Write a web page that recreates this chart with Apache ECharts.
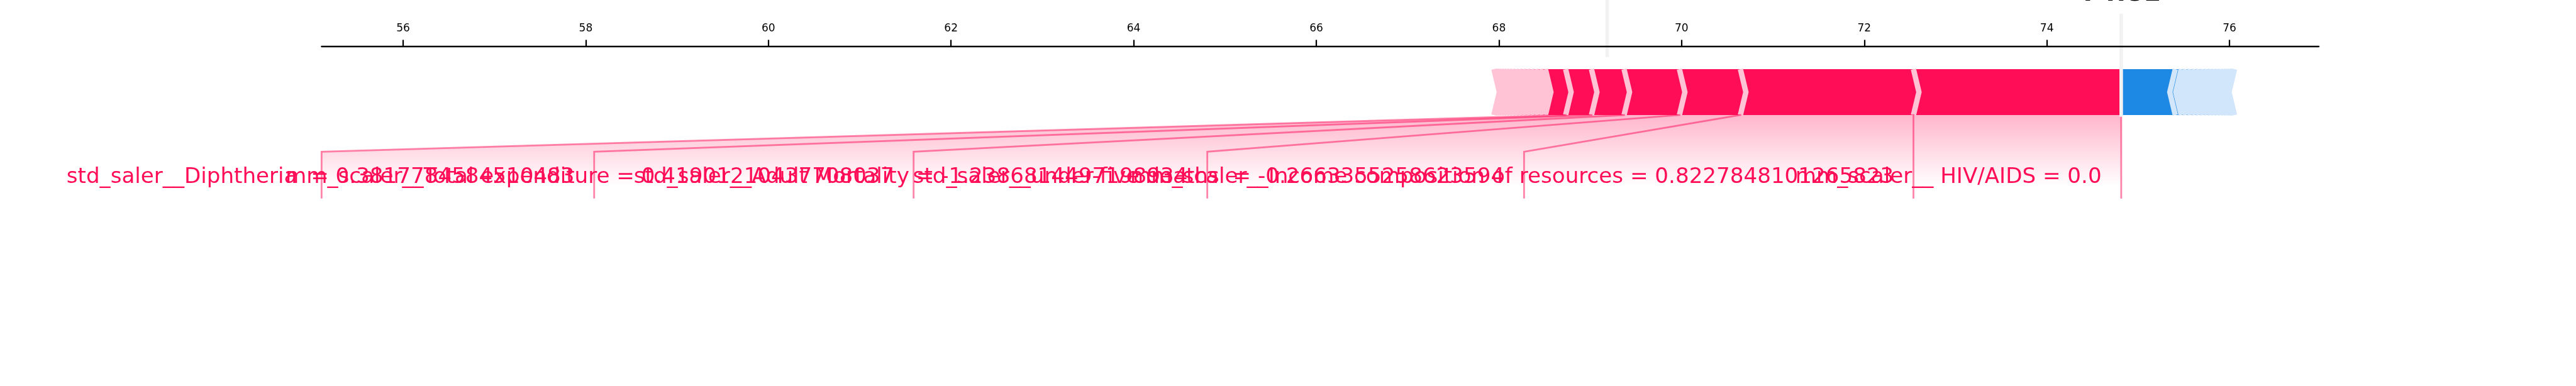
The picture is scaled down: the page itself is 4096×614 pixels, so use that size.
<!DOCTYPE html>
<html>
<head>
<meta charset="utf-8">
<script src="https://cdn.jsdelivr.net/npm/echarts@6/dist/echarts.min.js"></script>
<style>
html,body{margin:0;padding:0;background:#ffffff;}
#c{width:4096px;height:614px;}
</style>
</head>
<body>
<div id="c"></div>
<script>
// ---------------- data ----------------
const xTicks = [56, 58, 60, 62, 64, 66, 68, 70, 72, 74, 76];
const baseValue = 69.185;
const posLabels = [
  'mm_scaler__ HIV/AIDS = 0.0',
  'mm_scaler__Income composition of resources = 0.8227848101265823',
  'std_saler__under-five deaths  = -0.2663355258623594',
  'std_saler__Adult Mortality = -1.2386814497198934',
  'mm_scaler__Total expenditure = 0.41901210437708037',
  'std_saler__Diphtheria  = 0.3817784584510483'
];
// positive (red) SHAP effects, largest first
const posEffects = [2.275, 1.895, 0.668, 0.606, 0.357, 0.283, 0.221, 0.055,
  0.050, 0.048, 0.046, 0.044, 0.042, 0.040, 0.037, 0.035, 0.032, 0.030,
  0.027, 0.024, 0.021, 0.018, 0.015];
// negative (blue) SHAP effects, largest first
const negEffects = [0.592, 0.065, 0.050, 0.050, 0.048, 0.046, 0.045, 0.043,
  0.041, 0.039, 0.037, 0.035, 0.033, 0.030, 0.025, 0.022, 0.016, 0.013, 0.010];
// where each label's connector ends (null = straight down)
const labelBoxEnds = [null, 68.275, 64.806, 61.590, 58.092, 55.107];
const axisMax = 76.978;

// ---------------- derived ----------------
const S = 4096 / 6000;
const sumPos = posEffects.reduce((a, b) => a + b, 0);
const sumNeg = negEffects.reduce((a, b) => a + b, 0);
const outValue = baseValue + sumPos - sumNeg;
const barW = 0.1, sepW = 0.06, offsetText = 0.215;
const MID = 0.297; // alphabetic baseline below canvas 'middle' (em)

const barItems = [];
let pre = outValue;
posEffects.forEach((e, i) => { const l = pre - e; barItems.push([l, pre, 1, i, 0.05]); pre = l; });
pre = outValue;
negEffects.forEach((e, i) => { const r = pre + e; barItems.push([pre, r, -1, i, 0.05]); pre = r; });

const labelItems = [];
let startText = outValue;
posLabels.forEach((t, i) => {
  const val = outValue - posEffects.slice(0, i + 1).reduce((a, b) => a + b, 0);
  const be = labelBoxEnds[i] === null ? val : labelBoxEnds[i];
  labelItems.push({ text: t, val: val, boxEnd: be, diag: labelBoxEnds[i] !== null, textX: startText - offsetText });
  startText = be;
});
const lastLabel = labelItems[labelItems.length - 1];
const axisMin = lastLabel.boxEnd;

const FONT = 'DejaVu Sans';
const labelFont = 50 * S;
const RED = '#FF0D57', RED_L = '#FFC3D5', BLUE = '#1E88E5', BLUE_L = '#D1E6FA';

function barRender(params, api) {
  const left = api.value(0), right = api.value(1), kind = api.value(2), idx = api.value(3);
  const pos = kind === 1;
  const ind = pos ? sepW : -sepW;
  const m = barW / 2;
  let pts;
  if (idx === 0) {
    pts = pos ? [[left, 0], [right, 0], [right, barW], [left, barW], [left + ind, m]]
              : [[right, 0], [left, 0], [left, barW], [right, barW], [right + ind, m]];
  } else {
    pts = [[left, 0], [right, 0], [right + ind * 0.9, m], [right, barW], [left, barW], [left + ind * 0.9, m]];
  }
  return { type: 'polygon', shape: { points: pts.map(p => api.coord(p)) },
           style: { fill: pos ? RED : BLUE, stroke: null } };
}
function sepRender(params, api) {
  const left = api.value(0), right = api.value(1), kind = api.value(2);
  const pos = kind === 1;
  const ind = pos ? sepW : -sepW;
  const sp = pos ? left : right;
  const pts = [[sp, 0], [sp + ind, barW / 2], [sp, barW]].map(p => api.coord(p));
  return { type: 'polyline', shape: { points: pts },
           style: { stroke: pos ? RED_L : BLUE_L, lineWidth: 12.5 * S, lineJoin: 'miter', lineCap: 'butt', fill: null } };
}
function shadeRender(params, api) {
  const pts = [[outValue, 0], [lastLabel.val, 0], [lastLabel.boxEnd, -0.08], [lastLabel.boxEnd, -0.2], [outValue, -0.2]]
    .map(p => api.coord(p));
  return { type: 'polygon', shape: { points: pts },
    style: { fill: new echarts.graphic.LinearGradient(0, 0, 0, 1, [
      { offset: 0, color: 'rgba(255,13,87,0.3)' },
      { offset: 0.775, color: 'rgba(255,13,87,0)' },
      { offset: 1, color: 'rgba(255,13,87,0)' }]) } };
}
function lineRender(params, api) {
  const ch = [];
  const ls = { stroke: 'rgba(255,13,87,0.5)', lineWidth: 4.17 * S, lineCap: 'square', lineJoin: 'miter', fill: null };
  ch.push({ type: 'polyline', shape: { points: [api.coord([outValue, 0]), api.coord([outValue, -0.18])] }, style: ls });
  labelItems.forEach(li => {
    const pts = li.diag ? [[li.val, 0], [li.boxEnd, -0.08], [li.boxEnd, -0.18]] : [[li.val, 0], [li.val, -0.18]];
    ch.push({ type: 'polyline', shape: { points: pts.map(p => api.coord(p)) }, style: ls });
  });
  // output line and base value line
  const gs = { stroke: '#F2F2F2', lineWidth: 8.3 * S, lineCap: 'butt', fill: null };
  ch.push({ type: 'polyline', shape: { points: [api.coord([outValue, -0.0039]), api.coord([outValue, 0.2206])] }, style: gs });
  ch.push({ type: 'polyline', shape: { points: [api.coord([baseValue, 0.1261]), api.coord([baseValue, 0.2539])] }, style: gs });
  return { type: 'group', children: ch };
}
function labelRender(params, api) {
  const ch = [];
  labelItems.forEach(li => {
    const p = api.coord([li.textX, -0.15]);
    ch.push({ type: 'text', x: p[0], y: p[1] - MID * labelFont,
      style: { text: li.text, fill: RED, fontFamily: FONT, fontSize: labelFont,
               align: 'right', verticalAlign: 'middle' } });
  });
  const q = api.coord([outValue, 0.25]);
  const bf = 58.3 * S;
  ch.push({ type: 'text', x: q[0], y: q[1] + 2 - MID * bf,
    style: { text: outValue.toFixed(2), fill: '#000', fontFamily: FONT, fontSize: bf, fontWeight: 'bold',
             align: 'center', verticalAlign: 'middle' } });
  return { type: 'group', children: ch };
}

const chart = echarts.init(document.getElementById('c'), null, { renderer: 'canvas', width: 4096, height: 614 });
chart.setOption({
  animation: false,
  backgroundColor: '#ffffff',
  grid: { left: 749 * S, right: 4096 - 5401 * S, top: 107.5 * S, height: 695.5 * S, containLabel: false },
  xAxis: {
    type: 'value', position: 'top', min: axisMin, max: axisMax, z: 10,
    axisLine: { show: true, onZero: false, lineStyle: { color: '#000', width: 3.3 * S } },
    axisTick: { show: true, inside: false, length: 14.6 * S, customValues: xTicks, lineStyle: { color: '#000', width: 3.3 * S } },
    axisLabel: { show: true, customValues: xTicks, fontFamily: FONT, fontSize: 25 * S, color: '#000',
                 margin: 19.4, verticalAlign: 'bottom', lineHeight: 25 * S, formatter: v => String(v) },
    splitLine: { show: false }
  },
  yAxis: { type: 'value', min: -0.5, max: 0.15, show: false, splitLine: { show: false } },
  series: [
    { type: 'custom', z: 1, clip: false, data: [[outValue, 0]], encode: { x: 0, y: 1 }, renderItem: shadeRender, silent: true },
    { type: 'custom', z: 2, clip: false, data: barItems, encode: { x: [0, 1], y: 4 }, renderItem: barRender, silent: true },
    { type: 'custom', z: 3, clip: false, data: barItems, encode: { x: [0, 1], y: 4 }, renderItem: sepRender, silent: true },
    { type: 'custom', z: 4, clip: false, data: [[outValue, 0]], encode: { x: 0, y: 1 }, renderItem: lineRender, silent: true },
    { type: 'custom', z: 5, clip: false, data: [[outValue, 0]], encode: { x: 0, y: 1 }, renderItem: labelRender, silent: true }
  ]
});
</script>
</body>
</html>
